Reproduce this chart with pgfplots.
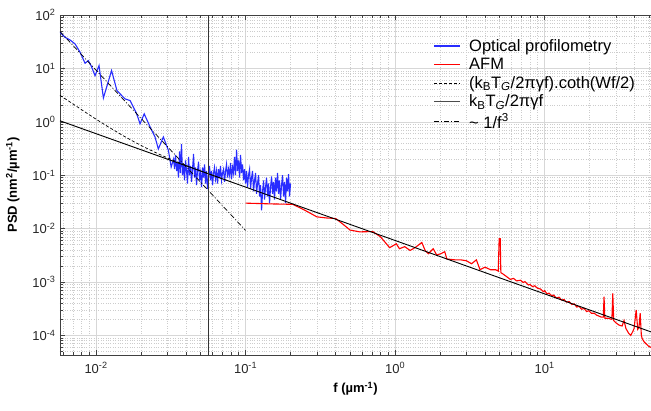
\documentclass[border=0pt]{standalone}
\usepackage{fontspec}
\setmainfont{Liberation Sans}
\usepackage{pgfplots}
\pgfplotsset{compat=1.18}
\definecolor{optblue}{RGB}{40,45,255}
\definecolor{afmred}{RGB}{255,0,0}
\definecolor{gridgray}{RGB}{215,215,215}

\begin{document}
\begin{tikzpicture}
\path[use as bounding box] (0,0) rectangle (651pt,410pt);
\begin{axis}[
    at={(60pt,55pt)}, anchor=south west,
    scale only axis,
    width=591pt, height=340pt,
    xmode=log, ymode=log,
    xmin=0.00574, xmax=51.5,
    ymin=4.3e-5, ymax=100,
    xtick={0.01,0.1,1,10},
    xticklabels={10\textsuperscript{-2},10\textsuperscript{-1},10\textsuperscript{0},10\textsuperscript{1}},
    ytick={1e-4,1e-3,1e-2,1e-1,1,10,100},
    yticklabels={10\textsuperscript{-4},10\textsuperscript{-3},10\textsuperscript{-2},10\textsuperscript{-1},10\textsuperscript{0},10\textsuperscript{1},10\textsuperscript{2}},
    minor xtick={0.006,0.007,0.008,0.009,0.02,0.03,0.04,0.05,0.06,0.07,0.08,0.09,0.2,0.3,0.4,0.5,0.6,0.7,0.8,0.9,2,3,4,5,6,7,8,9,20,30,40,50},
    minor ytick={5e-5,6e-5,7e-5,8e-5,9e-5,2e-4,3e-4,4e-4,5e-4,6e-4,7e-4,8e-4,9e-4,2e-3,3e-3,4e-3,5e-3,6e-3,7e-3,8e-3,9e-3,0.02,0.03,0.04,0.05,0.06,0.07,0.08,0.09,0.2,0.3,0.4,0.5,0.6,0.7,0.8,0.9,2,3,4,5,6,7,8,9,20,30,40,50,60,70,80,90},
    tick align=inside,
    xtick pos=both, ytick pos=left,
    major tick length=5pt, minor tick length=3pt,
    tick style={black!75, line width=0.6pt},
    axis line style={black!75, line width=0.8pt},
    grid=both,
    major grid style={gridgray, line width=0.6pt},
    minor grid style={gray!40, dotted, line width=0.5pt},
    ticklabel style={font=\fontsize{13}{13}\selectfont, text=black!85},
    xticklabel style={yshift=-4pt},
    yticklabel style={xshift=-1pt},
    xlabel={\textbf{f (µm\textsuperscript{-1})}},
    ylabel={\textbf{PSD (nm\textsuperscript{2}/µm\textsuperscript{-1})}},
    label style={font=\fontsize{13}{13}\selectfont},
    xlabel style={yshift=-2pt},
    ylabel style={yshift=6pt},
    legend style={at={(0.632,0.935)}, anchor=north west, draw=none, fill=none,
        font=\fontsize{16.5}{16.5}\selectfont, row sep=1.3pt,
        inner sep=0pt, cells={anchor=west}},
    legend image code/.code={\draw[#1] (0pt,0pt) -- (26pt,0pt);},
]

% legend entries
\addlegendimage{optblue, line width=1.5pt}
\addlegendentry{\hspace{6pt}Optical profilometry}
\addlegendimage{afmred, line width=1.5pt}
\addlegendentry{\hspace{6pt}AFM}
\addlegendimage{black, line width=0.8pt, dash pattern=on 3pt off 2pt}
\addlegendentry{\hspace{6pt}(k\textsubscript{B}T\textsubscript{\textit{G}}/2πγf).coth(Wf/2)}
\addlegendimage{black!70, line width=1.2pt}
\addlegendentry{\hspace{6pt}k\textsubscript{B}T\textsubscript{\textit{G}}/2πγf}
\addlegendimage{black, line width=0.8pt, dash pattern=on 5pt off 2pt on 1pt off 2pt}
\addlegendentry{\hspace{6pt}\textasciitilde{} 1/f\textsuperscript{3}}

% optical profilometry
\addplot[optblue, line width=1.1pt, forget plot] coordinates {
(0.00574,47.5) (0.0062,38.3) (0.0067,34.1) (0.00724,28.7) (0.00782,20.1)
(0.00844,12.5) (0.00888,14.0) (0.00926,11.3) (0.00985,7.3) (0.01047,11.3)
(0.0112,2.8) (0.0127,9.1) (0.0138,3.85) (0.0156,2.69) (0.0169,2.5)
(0.0187,1.41) (0.0197,0.92) (0.0210,1.41) (0.0230,0.8) (0.0248,0.52)
(0.0261,0.31) (0.0282,0.52) (0.0305,0.29) (0.0318,0.142)
(0.0330,0.20) (0.0335,0.13) (0.0340,0.24) (0.0346,0.12) (0.0351,0.17)
(0.0356,0.09) (0.0362,0.28) (0.0367,0.11) (0.0373,0.38) (0.0379,0.10)
(0.0385,0.16) (0.0391,0.08) (0.0397,0.19) (0.0403,0.12) (0.0409,0.07)
(0.0416,0.22) (0.0422,0.10) (0.0429,0.15) (0.0435,0.075) (0.0442,0.13)
(0.0449,0.25) (0.0456,0.09) (0.0463,0.14) (0.0470,0.065) (0.0477,0.12)
(0.0485,0.18) (0.0492,0.08) (0.0500,0.11) (0.0508,0.06) (0.0516,0.14)
(0.0524,0.09) (0.0532,0.16) (0.0540,0.07) (0.0548,0.12) (0.0557,0.055)
(0.0566,0.10) (0.0574,0.15) (0.0583,0.08) (0.0592,0.12) (0.0602,0.065)
(0.0611,0.11) (0.0620,0.14) (0.0630,0.085) (0.0640,0.12) (0.0650,0.07)
(0.0660,0.13) (0.0670,0.09) (0.0680,0.15) (0.0691,0.08) (0.0702,0.11)
(0.0713,0.13) (0.0724,0.075) (0.0735,0.12) (0.0746,0.16) (0.0758,0.09)
(0.0770,0.13) (0.0782,0.10) (0.0794,0.17) (0.0806,0.085) (0.0819,0.14)
(0.0831,0.11) (0.0844,0.22) (0.0857,0.10) (0.0871,0.30) (0.0884,0.12)
(0.0898,0.19) (0.0912,0.09) (0.0926,0.24) (0.0940,0.11) (0.0955,0.16)
(0.0970,0.08) (0.0985,0.13) (0.1000,0.07) (0.1016,0.12) (0.1031,0.06)
(0.1047,0.10) (0.1064,0.13) (0.1080,0.055) (0.1097,0.09) (0.1114,0.12)
(0.1131,0.05) (0.1149,0.08) (0.1167,0.11) (0.1185,0.045) (0.1203,0.07)
(0.1222,0.10) (0.1241,0.04) (0.1260,0.065) (0.1280,0.022) (0.1300,0.05)
(0.1320,0.08) (0.1340,0.035) (0.1361,0.06) (0.1382,0.09) (0.1404,0.04)
(0.1425,0.07) (0.1447,0.03) (0.1470,0.06) (0.1493,0.095) (0.1516,0.045)
(0.1539,0.075) (0.1563,0.035) (0.1587,0.09) (0.1612,0.05) (0.1637,0.11)
(0.1663,0.045) (0.1688,0.08) (0.1715,0.035) (0.1741,0.065) (0.1768,0.10)
(0.1796,0.04) (0.1824,0.075) (0.1852,0.03) (0.1881,0.09) (0.1910,0.05)
(0.1940,0.105) (0.1970,0.04) (0.2000,0.07)
};

% AFM
\addplot[afmred, line width=1.1pt, forget plot] coordinates {
(0.1,0.030) (0.15,0.029) (0.207,0.0285) (0.25,0.022) (0.30,0.0166)
(0.35,0.0158) (0.40,0.0155) (0.45,0.012) (0.50,0.0094) (0.58,0.0087)
(0.71,0.0088) (0.80,0.0070) (0.92,0.0044) (1.02,0.0052) (1.07,0.0042)
(1.16,0.0046) (1.26,0.0039) (1.36,0.0044) (1.51,0.0055) (1.59,0.0039)
(1.67,0.0034) (1.80,0.0042) (1.90,0.0032) (2.03,0.0034) (2.15,0.0037)
(2.22,0.0027) (2.52,0.0026) (2.76,0.0026) (3.0,0.0025) (3.25,0.0022)
(3.5,0.0026) (3.7,0.0017) (4.0,0.0019) (4.35,0.0017) (4.7,0.0017)
(4.9,0.0016) (4.97,0.0065) (5.05,0.0065) (5.1,0.0015) (5.3,0.0014)
(5.6,0.00125) (5.9,0.00112) (6.2,0.00117) (6.5,0.00105) (6.9,0.00108)
(7.2,0.00098) (7.4,0.00102) (7.8,0.00088) (8.0,0.00090) (8.3,0.00082)
(8.6,0.00085) (9.0,0.00076) (9.4,0.00074) (9.8,0.00066) (10.0,0.00069)
(10.4,0.0006) (10.7,0.00062) (11.2,0.00055) (11.5,0.00057) (12.0,0.00050)
(12.5,0.00052) (13.0,0.00046) (13.5,0.00047) (14.0,0.00042) (14.6,0.00043)
(15.2,0.00038) (15.8,0.00039) (16.4,0.00034) (17.0,0.00035) (17.7,0.00031)
(18.4,0.00032) (19.1,0.00028) (19.8,0.00029) (20.6,0.00026) (21.5,0.00026)
(22.3,0.00024) (23.1,0.00023) (24.0,0.00022) (24.7,0.00022)
(25.0,0.00053) (25.3,0.00021) (26.5,0.00021) (28.2,0.0002) (28.6,0.00061)
(29.0,0.00019) (30.2,0.00017) (31.5,0.000156) (33.0,0.00015) (34.0,0.00019)
(35.0,0.000135) (36.5,0.00011) (37.7,0.0001) (39.0,0.00012) (39.7,0.000135)
(41.0,0.0003) (42.0,0.00013) (42.8,0.00014) (43.6,0.00026) (44.4,0.00010)
(45.0,0.000087) (46.5,0.000075) (48.7,0.000066) (50.0,0.000062) (51.5,0.00006)
};

% (kT/2 pi gamma f) coth(Wf/2)
\addplot[black, line width=0.7pt, dash pattern=on 3pt off 2pt, forget plot] coordinates {
(0.00574,3.13) (0.007,2.166) (0.0085,1.507) (0.01,1.120) (0.012,0.813)
(0.015,0.560) (0.018,0.421) (0.022,0.315) (0.027,0.2405) (0.033,0.189)
(0.04,0.1525) (0.05,0.1206) (0.065,0.0924) (0.08,0.075)
};

% kT/2 pi gamma f
\addplot[black, line width=0.9pt, forget plot] coordinates {
(0.00574,1.045) (51.5,0.0001165)
};

% ~ 1/f^3
\addplot[black, line width=0.7pt, dash pattern=on 5pt off 2pt on 1pt off 2pt, forget plot] coordinates {
(0.00574,49.0) (0.1,0.00927)
};

% vertical marker
\addplot[black!80, line width=1pt, forget plot] coordinates {
(0.0561,4.3e-5) (0.0561,100)
};
\end{axis}
\end{tikzpicture}
\end{document}
